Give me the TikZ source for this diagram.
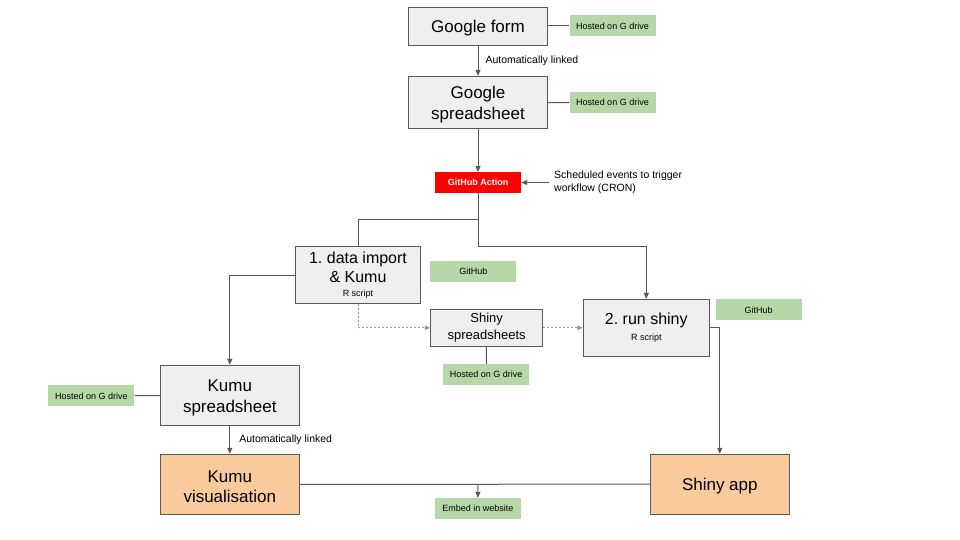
\documentclass[tikz,border=0pt]{standalone}
\usepackage{fontspec}
\setmainfont{Liberation Sans}
\frenchspacing
\usetikzlibrary{arrows.meta}

\definecolor{boxgray}{HTML}{EFEFEF}
\definecolor{linegray}{HTML}{595959}
\definecolor{dotgray}{HTML}{999999}
\definecolor{notegreen}{HTML}{B6D7A8}
\definecolor{outorange}{HTML}{F9CB9C}

\newcommand{\topstrut}{\rule{0pt}{17pt}}

\begin{document}
\begin{tikzpicture}[x=1pt, y=-1pt,
    box/.style={draw=linegray, line width=0.9pt, fill=boxgray, align=center, inner sep=0pt},
    outbox/.style={box, fill=outorange},
    note/.style={fill=notegreen, inner sep=0pt, minimum width=86pt, minimum height=21pt, font=\fontsize{9}{11}\selectfont},
    big/.style={font=\fontsize{17}{20.5}\selectfont},
    mid/.style={font=\fontsize{16}{19}\selectfont},
    small/.style={font=\fontsize{10.5}{13}\selectfont},
    link/.style={draw=linegray, line width=1pt},
    arr/.style={link, -{Triangle[length=6pt,width=5pt]}},
    dots/.style={draw=dotgray, line width=0.9pt, dash pattern=on 2pt off 2pt, -{Triangle[length=5.5pt,width=4.5pt]}}]
    \useasboundingbox (0,0) rectangle (960,540);

    % top: form and sheet
    \node[box, big, minimum width=139pt, minimum height=38pt] (form) at (478,26) {\topstrut Google form};
    \node[box, big, minimum width=139pt, minimum height=52pt] (sheet) at (478,102.3) {\topstrut Google\\spreadsheet};
    \node[note] (hosted1) at (612.5,26) {Hosted on G drive};
    \node[note] (hosted2) at (612.5,102.7) {Hosted on G drive};

    \node[fill=red, text=white, inner sep=0pt, minimum width=86pt, minimum height=20.5pt,
          font=\fontsize{9}{11}\selectfont\bfseries] (action) at (478,182.5) {GitHub Action};
    \node[small, align=left, anchor=west, inner sep=0pt] (sched) at (554,182.5) {Scheduled events to trigger\\workflow (CRON)};

    % middle: scripts
    \node[box, mid, minimum width=125pt, minimum height=56.6pt] (imp) at (358,275)
        {1. data import\\\& Kumu\\[-5pt]{\fontsize{9}{11}\selectfont R script}};
    \node[note] (gh1) at (473.3,271.5) {GitHub};
    \node[box, font=\fontsize{13}{16.5}\selectfont, minimum width=112pt, minimum height=37.7pt] (shinysheet) at (486.7,327.8) {Shiny\\spreadsheets};
    \node[note] (hosted3) at (486.2,374.5) {Hosted on G drive};
    \node[box, mid, minimum width=126pt, minimum height=57pt] (run) at (646.3,327.8)
        {2. run shiny\\[-3pt]{\fontsize{9}{11}\selectfont R script}};
    \node[note] (gh2) at (758.5,309.8) {GitHub};

    % bottom: outputs
    \node[box, big, minimum width=139pt, minimum height=60pt] (kumusheet) at (229.8,395.3) {\topstrut Kumu\\spreadsheet};
    \node[note] (hosted4) at (91.3,395.8) {Hosted on G drive};
    \node[outbox, big, minimum width=139pt, minimum height=60pt] (kumuvis) at (229.8,484.3) {\topstrut Kumu\\visualisation};
    \node[outbox, big, minimum width=139pt, minimum height=60pt] (app) at (719.8,484.2) {\topstrut Shiny app};
    \node[note] (embed) at (477.8,508.5) {Embed in website};

    \coordinate (split) at (478,219.3);
    \coordinate (fork) at (478,246);
    \coordinate (embedpt) at (478,484.2);

    \draw[arr] (form) -- (sheet) node[midway, right=7pt, small, inner sep=0pt] {Automatically linked};
    \draw[link] (form) -- (hosted1);
    \draw[link] (sheet) -- (hosted2);
    \draw[arr] (sheet) -- (action);
    \draw[arr] ([xshift=-5pt]sched.west) -- (action);

    \draw[link] (action) -- (split) -| (imp.north);
    \draw[arr] (split) -- (fork) -| (run.north);
    \draw[arr] (imp.west) -| (kumusheet.north);
    \draw[dots] (imp.south) |- (shinysheet.west);
    \draw[dots] (shinysheet) -- (run);
    \draw[link] (shinysheet) -- (hosted3);
    \draw[arr] (run.east) -| (app.north);

    \draw[link] (hosted4) -- (kumusheet);
    \draw[arr] (kumusheet) -- (kumuvis) node[midway, right=9pt, small, inner sep=0pt] {Automatically linked};
    \draw[link] (kumuvis) -- (app);
    \draw[arr] (embedpt) -- (embed);
\end{tikzpicture}
\end{document}
